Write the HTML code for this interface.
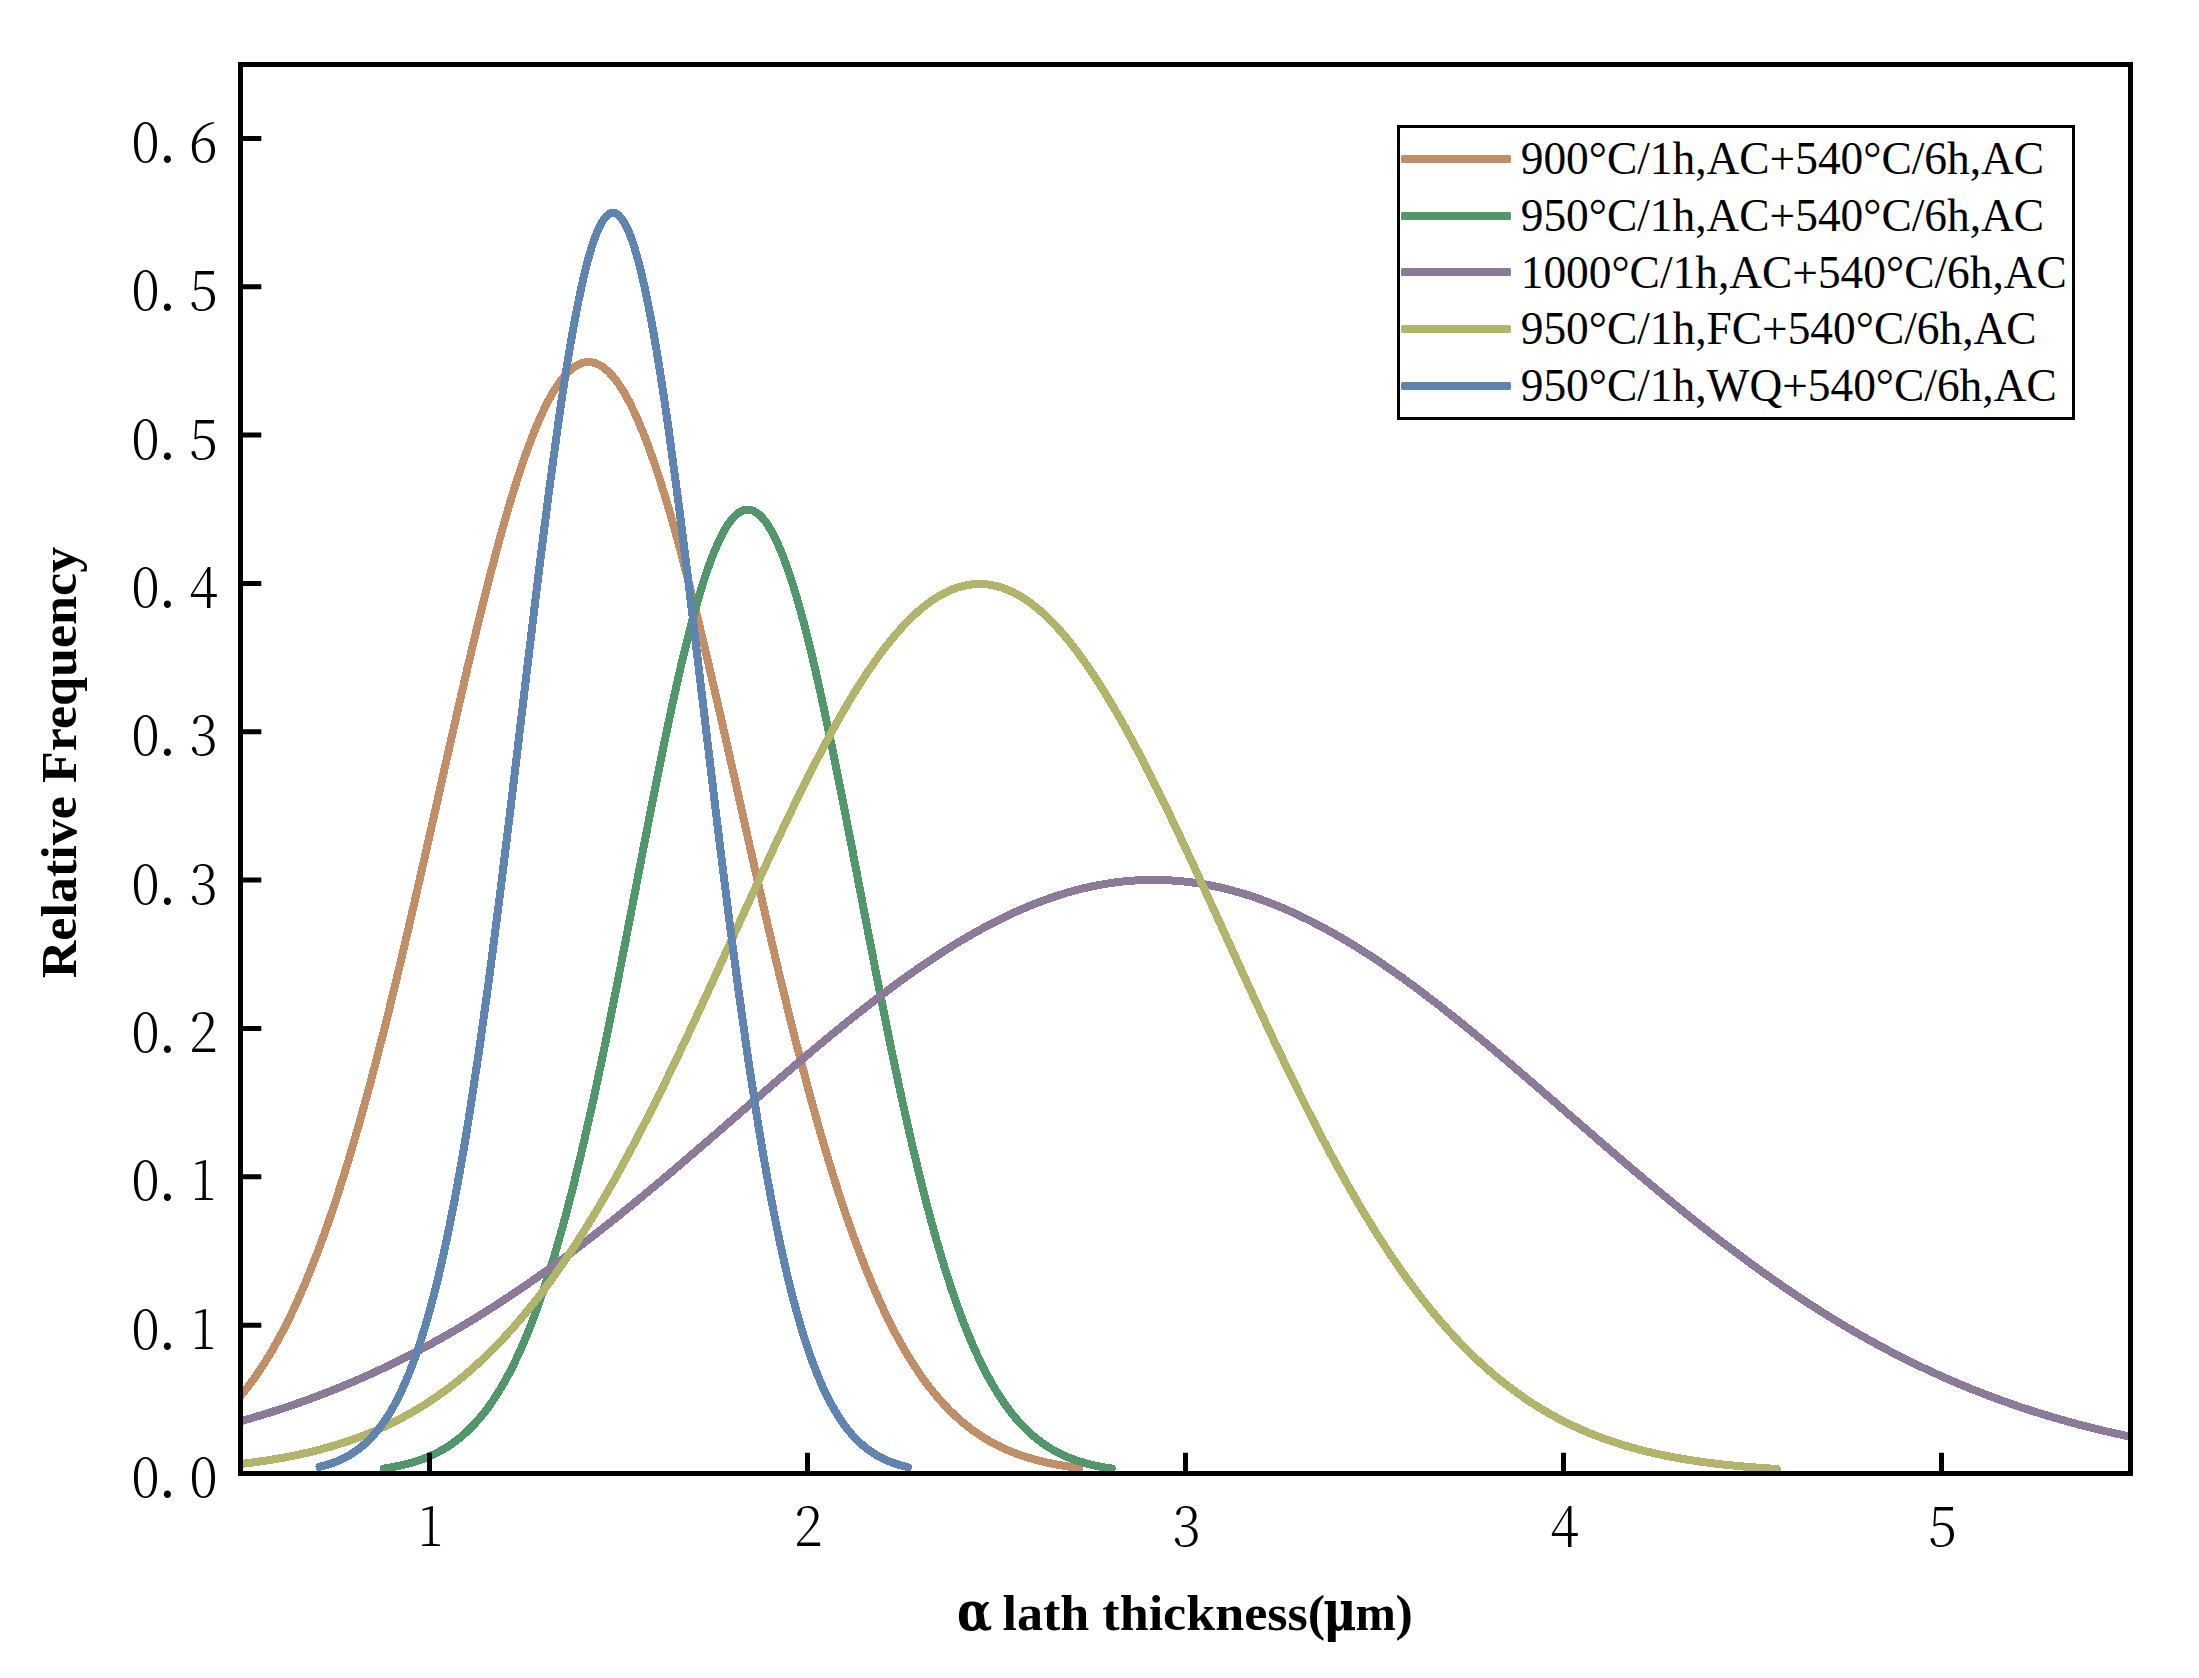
<!DOCTYPE html>
<html><head><meta charset="utf-8"><title>alpha lath thickness</title>
<style>html,body{margin:0;padding:0;background:#fff;overflow:hidden}svg{display:block}.tk{font-family:"Noto Serif CJK SC","Liberation Serif",serif;font-weight:300;font-size:55.4px;text-anchor:middle;fill:#000}.lg{font-family:"Liberation Serif",serif;font-size:45.4px;fill:#000}.ti{font-family:"Liberation Serif",serif;font-weight:bold;font-size:52.1px;fill:#000}</style></head><body>
<svg width="2199" height="1678" viewBox="0 0 2199 1678">
<rect width="2199" height="1678" fill="#fff"/>
<defs><clipPath id="pc"><rect x="240.5" y="64.5" width="1890.0" height="1412.0"/></clipPath></defs>
<g clip-path="url(#pc)" fill="none" stroke-width="8" stroke-linecap="round" stroke-linejoin="round" shape-rendering="crispEdges">
<path stroke="#C08F68" d="M228.50,1409.18C231.84,1405.78 235.17,1402.16 238.51,1398.29C241.85,1394.43 245.19,1390.33 248.52,1385.96C251.86,1381.59 255.20,1376.96 258.54,1372.05C261.87,1367.14 265.21,1361.94 268.55,1356.44C271.88,1350.95 275.22,1345.15 278.56,1339.03C281.90,1332.92 285.23,1326.48 288.57,1319.71C291.91,1312.95 295.25,1305.84 298.58,1298.39C301.92,1290.94 305.26,1283.14 308.59,1274.99C311.93,1266.84 315.27,1258.32 318.61,1249.45C321.94,1240.58 325.28,1231.34 328.62,1221.74C331.95,1212.14 335.29,1202.17 338.63,1191.84C341.97,1181.51 345.30,1170.82 348.64,1159.78C351.98,1148.74 355.32,1137.34 358.65,1125.61C361.99,1113.87 365.33,1101.80 368.66,1089.41C372.00,1077.02 375.34,1064.31 378.68,1051.31C382.01,1038.31 385.35,1025.01 388.69,1011.47C392.03,997.92 395.36,984.11 398.70,970.09C402.04,956.07 405.37,941.83 408.71,927.42C412.05,913.02 415.39,898.44 418.72,883.74C422.06,869.05 425.40,854.24 428.74,839.37C432.07,824.50 435.41,809.58 438.75,794.66C442.08,779.74 445.42,764.83 448.76,749.99C452.10,735.16 455.43,720.39 458.77,705.78C462.11,691.16 465.45,676.69 468.78,662.44C472.12,648.19 475.46,634.16 478.79,620.43C482.13,606.69 485.47,593.26 488.81,580.19C492.14,567.12 495.48,554.42 498.82,542.16C502.15,529.90 505.49,518.09 508.83,506.78C512.17,495.48 515.50,484.69 518.84,474.48C522.18,464.27 525.52,454.63 528.85,445.63C532.19,436.64 535.53,428.28 538.86,420.61C542.20,412.94 545.54,405.96 548.88,399.71C552.21,393.47 555.55,387.96 558.89,383.22C562.23,378.49 565.56,374.52 568.90,371.35C572.24,368.18 575.57,365.81 578.91,364.24C582.25,362.68 585.59,361.94 588.92,362.00C592.26,362.07 595.60,362.96 598.94,364.66C602.27,366.36 605.61,368.87 608.95,372.17C612.28,375.48 615.62,379.58 618.96,384.44C622.30,389.31 625.63,394.95 628.97,401.32C632.31,407.68 635.65,414.78 638.98,422.57C642.32,430.35 645.66,438.83 648.99,447.93C652.33,457.04 655.67,466.77 659.01,477.08C662.34,487.39 665.68,498.27 669.02,509.66C672.35,521.05 675.69,532.95 679.03,545.28C682.37,557.61 685.70,570.38 689.04,583.51C692.38,596.64 695.72,610.14 699.05,623.92C702.39,637.70 705.73,651.78 709.06,666.06C712.40,680.35 715.74,694.85 719.08,709.49C722.41,724.13 725.75,738.91 729.09,753.76C732.43,768.61 735.76,783.53 739.10,798.45C742.44,813.37 745.77,828.29 749.11,843.14C752.45,858.00 755.79,872.80 759.12,887.47C762.46,902.14 765.80,916.70 769.14,931.08C772.47,945.46 775.81,959.66 779.15,973.65C782.48,987.63 785.82,1001.40 789.16,1014.90C792.50,1028.40 795.83,1041.65 799.17,1054.60C802.51,1067.55 805.85,1080.21 809.18,1092.55C812.52,1104.88 815.86,1116.90 819.19,1128.58C822.53,1140.26 825.87,1151.59 829.21,1162.58C832.54,1173.56 835.88,1184.19 839.22,1194.45C842.55,1204.72 845.89,1214.63 849.23,1224.17C852.57,1233.71 855.90,1242.88 859.24,1251.70C862.58,1260.51 865.92,1268.96 869.25,1277.05C872.59,1285.15 875.93,1292.88 879.26,1300.28C882.60,1307.67 885.94,1314.71 889.28,1321.43C892.61,1328.14 895.95,1334.52 899.29,1340.58C902.63,1346.64 905.96,1352.39 909.30,1357.83C912.64,1363.28 915.97,1368.42 919.31,1373.29C922.65,1378.15 925.99,1382.74 929.32,1387.06C932.66,1391.38 936.00,1395.45 939.34,1399.27C942.67,1403.09 946.01,1406.67 949.35,1410.03C952.68,1413.39 956.02,1416.53 959.36,1419.48C962.70,1422.42 966.03,1425.16 969.37,1427.71C972.71,1430.27 976.05,1432.65 979.38,1434.87C982.72,1437.08 986.06,1439.14 989.39,1441.05C992.73,1442.96 996.07,1444.72 999.41,1446.36C1002.74,1447.99 1006.08,1449.50 1009.42,1450.90C1012.75,1452.30 1016.09,1453.58 1019.43,1454.76C1022.77,1455.95 1026.10,1457.03 1029.44,1458.04C1032.78,1459.04 1036.12,1459.95 1039.45,1460.79C1042.79,1461.63 1046.13,1462.40 1049.46,1463.10C1052.80,1463.81 1056.14,1464.45 1059.48,1465.03C1062.81,1465.62 1066.15,1466.15 1069.49,1466.63C1072.83,1467.12 1076.16,1467.56 1079.50,1467.96"/>
<path stroke="#52976B" d="M384.00,1468.51C387.32,1468.03 390.65,1467.49 393.97,1466.86C397.29,1466.24 400.61,1465.55 403.94,1464.75C407.26,1463.95 410.58,1463.06 413.91,1462.05C417.23,1461.04 420.55,1459.91 423.87,1458.64C427.20,1457.37 430.52,1455.95 433.84,1454.36C437.17,1452.78 440.49,1451.02 443.81,1449.05C447.13,1447.09 450.46,1444.92 453.78,1442.51C457.10,1440.10 460.43,1437.45 463.75,1434.53C467.07,1431.60 470.39,1428.40 473.72,1424.87C477.04,1421.35 480.36,1417.51 483.68,1413.31C487.01,1409.10 490.33,1404.54 493.65,1399.58C496.98,1394.61 500.30,1389.24 503.62,1383.43C506.94,1377.61 510.27,1371.36 513.59,1364.62C516.91,1357.88 520.24,1350.65 523.56,1342.91C526.88,1335.17 530.20,1326.92 533.53,1318.12C536.85,1309.32 540.17,1299.98 543.50,1290.07C546.82,1280.17 550.14,1269.70 553.46,1258.67C556.79,1247.63 560.11,1236.03 563.43,1223.87C566.76,1211.70 570.08,1198.98 573.40,1185.72C576.72,1172.45 580.05,1158.65 583.37,1144.35C586.69,1130.05 590.02,1115.24 593.34,1100.00C596.66,1084.75 599.98,1069.07 603.31,1053.01C606.63,1036.96 609.95,1020.53 613.28,1003.84C616.60,987.15 619.92,970.18 623.24,953.05C626.57,935.93 629.89,918.64 633.21,901.32C636.54,883.99 639.86,866.64 643.18,849.39C646.50,832.14 649.83,815.00 653.15,798.11C656.47,781.23 659.79,764.60 663.12,748.38C666.44,732.16 669.76,716.36 673.09,701.12C676.41,685.88 679.73,671.21 683.05,657.26C686.38,643.31 689.70,630.07 693.02,617.70C696.35,605.33 699.67,593.81 702.99,583.29C706.31,572.77 709.64,563.23 712.96,554.79C716.28,546.35 719.61,539.01 722.93,532.85C726.25,526.69 729.57,521.71 732.90,517.97C736.22,514.23 739.54,511.73 742.87,510.50C746.19,509.26 749.51,509.30 752.83,510.61C756.16,511.92 759.48,514.49 762.80,518.31C766.13,522.12 769.45,527.18 772.77,533.41C776.09,539.64 779.42,547.05 782.74,555.56C786.06,564.06 789.39,573.66 792.71,584.24C796.03,594.83 799.35,606.39 802.68,618.82C806.00,631.24 809.32,644.52 812.65,658.52C815.97,672.52 819.29,687.23 822.61,702.50C825.94,717.77 829.26,733.61 832.58,749.85C835.91,766.09 839.23,782.74 842.55,799.64C845.87,816.54 849.20,833.69 852.52,850.95C855.84,868.20 859.16,885.56 862.49,902.88C865.81,920.20 869.13,937.48 872.46,954.60C875.78,971.72 879.10,988.67 882.42,1005.35C885.75,1022.02 889.07,1038.43 892.39,1054.46C895.72,1070.49 899.04,1086.15 902.36,1101.37C905.68,1116.59 909.01,1131.37 912.33,1145.64C915.65,1159.91 918.98,1173.68 922.30,1186.91C925.62,1200.14 928.94,1212.83 932.27,1224.96C935.59,1237.09 938.91,1248.66 942.24,1259.66C945.56,1270.66 948.88,1281.09 952.20,1290.96C955.53,1300.83 958.85,1310.14 962.17,1318.91C965.50,1327.68 968.82,1335.90 972.14,1343.61C975.46,1351.32 978.79,1358.51 982.11,1365.22C985.43,1371.93 988.76,1378.16 992.08,1383.95C995.40,1389.74 998.72,1395.08 1002.05,1400.02C1005.37,1404.96 1008.69,1409.50 1012.02,1413.68C1015.34,1417.87 1018.66,1421.69 1021.98,1425.19C1025.31,1428.69 1028.63,1431.88 1031.95,1434.79C1035.27,1437.70 1038.60,1440.33 1041.92,1442.73C1045.24,1445.12 1048.57,1447.28 1051.89,1449.23C1055.21,1451.18 1058.53,1452.93 1061.86,1454.51C1065.18,1456.09 1068.50,1457.49 1071.83,1458.76C1075.15,1460.02 1078.47,1461.14 1081.79,1462.14C1085.12,1463.15 1088.44,1464.03 1091.76,1464.82C1095.09,1465.61 1098.41,1466.30 1101.73,1466.92C1105.05,1467.54 1108.38,1468.07 1111.70,1468.55"/>
<path stroke="#8B7A98" d="M228.50,1424.49C231.84,1423.61 235.18,1422.71 238.52,1421.78C241.86,1420.86 245.20,1419.92 248.54,1418.96C251.88,1418.00 255.22,1417.02 258.56,1416.02C261.90,1415.01 265.24,1413.99 268.58,1412.95C271.92,1411.91 275.26,1410.84 278.60,1409.76C281.95,1408.67 285.29,1407.56 288.63,1406.43C291.97,1405.30 295.31,1404.15 298.65,1402.98C301.99,1401.80 305.33,1400.61 308.67,1399.39C312.01,1398.17 315.35,1396.93 318.69,1395.66C322.03,1394.40 325.37,1393.11 328.71,1391.79C332.05,1390.48 335.39,1389.15 338.73,1387.79C342.07,1386.43 345.41,1385.04 348.75,1383.63C352.09,1382.23 355.43,1380.79 358.77,1379.34C362.11,1377.88 365.45,1376.40 368.79,1374.89C372.13,1373.38 375.47,1371.85 378.81,1370.30C382.15,1368.74 385.49,1367.16 388.84,1365.55C392.18,1363.94 395.52,1362.31 398.86,1360.65C402.20,1358.99 405.54,1357.31 408.88,1355.60C412.22,1353.89 415.56,1352.15 418.90,1350.39C422.24,1348.63 425.58,1346.85 428.92,1345.03C432.26,1343.22 435.60,1341.38 438.94,1339.52C442.28,1337.65 445.62,1335.76 448.96,1333.85C452.30,1331.93 455.64,1329.99 458.98,1328.02C462.32,1326.06 465.66,1324.06 469.00,1322.04C472.34,1320.02 475.68,1317.98 479.02,1315.91C482.36,1313.84 485.70,1311.75 489.04,1309.62C492.38,1307.50 495.73,1305.36 499.07,1303.19C502.41,1301.02 505.75,1298.82 509.09,1296.60C512.43,1294.38 515.77,1292.14 519.11,1289.87C522.45,1287.60 525.79,1285.31 529.13,1282.99C532.47,1280.68 535.81,1278.34 539.15,1275.97C542.49,1273.61 545.83,1271.22 549.17,1268.82C552.51,1266.41 555.85,1263.98 559.19,1261.52C562.53,1259.07 565.87,1256.59 569.21,1254.10C572.55,1251.60 575.89,1249.08 579.23,1246.55C582.57,1244.01 585.91,1241.45 589.25,1238.87C592.59,1236.29 595.93,1233.69 599.27,1231.08C602.62,1228.46 605.96,1225.83 609.30,1223.17C612.64,1220.52 615.98,1217.85 619.32,1215.16C622.66,1212.48 626.00,1209.77 629.34,1207.05C632.68,1204.33 636.02,1201.60 639.36,1198.85C642.70,1196.10 646.04,1193.33 649.38,1190.55C652.72,1187.78 656.06,1184.99 659.40,1182.18C662.74,1179.38 666.08,1176.56 669.42,1173.74C672.76,1170.91 676.10,1168.08 679.44,1165.23C682.78,1162.38 686.12,1159.53 689.46,1156.67C692.80,1153.80 696.14,1150.93 699.48,1148.05C702.82,1145.18 706.16,1142.29 709.51,1139.40C712.85,1136.52 716.19,1133.62 719.53,1130.73C722.87,1127.83 726.21,1124.93 729.55,1122.03C732.89,1119.12 736.23,1116.22 739.57,1113.32C742.91,1110.41 746.25,1107.51 749.59,1104.61C752.93,1101.71 756.27,1098.81 759.61,1095.91C762.95,1093.01 766.29,1090.12 769.63,1087.23C772.97,1084.35 776.31,1081.46 779.65,1078.59C782.99,1075.71 786.33,1072.84 789.67,1069.99C793.01,1067.13 796.35,1064.28 799.69,1061.44C803.03,1058.60 806.37,1055.77 809.71,1052.95C813.05,1050.14 816.40,1047.33 819.74,1044.55C823.08,1041.76 826.42,1038.98 829.76,1036.23C833.10,1033.47 836.44,1030.73 839.78,1028.01C843.12,1025.28 846.46,1022.58 849.80,1019.90C853.14,1017.22 856.48,1014.55 859.82,1011.91C863.16,1009.27 866.50,1006.65 869.84,1004.06C873.18,1001.47 876.52,998.90 879.86,996.35C883.20,993.81 886.54,991.29 889.88,988.81C893.22,986.32 896.56,983.86 899.90,981.43C903.24,979.00 906.58,976.60 909.92,974.23C913.26,971.86 916.60,969.52 919.95,967.22C923.29,964.91 926.63,962.64 929.97,960.41C933.31,958.18 936.65,955.98 939.99,953.82C943.33,951.66 946.67,949.53 950.01,947.45C953.35,945.36 956.69,943.31 960.03,941.31C963.37,939.30 966.71,937.34 970.05,935.41C973.39,933.49 976.73,931.61 980.07,929.77C983.41,927.94 986.75,926.14 990.09,924.40C993.43,922.65 996.77,920.94 1000.11,919.29C1003.45,917.63 1006.79,916.02 1010.13,914.46C1013.47,912.90 1016.81,911.39 1020.15,909.92C1023.49,908.46 1026.84,907.04 1030.18,905.68C1033.52,904.31 1036.86,903.00 1040.20,901.74C1043.54,900.47 1046.88,899.26 1050.22,898.11C1053.56,896.95 1056.90,895.84 1060.24,894.79C1063.58,893.74 1066.92,892.74 1070.26,891.80C1073.60,890.85 1076.94,889.96 1080.28,889.13C1083.62,888.29 1086.96,887.51 1090.30,886.79C1093.64,886.07 1096.98,885.40 1100.32,884.79C1103.66,884.18 1107.00,883.63 1110.34,883.13C1113.68,882.63 1117.02,882.19 1120.36,881.81C1123.70,881.43 1127.04,881.10 1130.38,880.83C1133.73,880.56 1137.07,880.35 1140.41,880.20C1143.75,880.05 1147.09,879.95 1150.43,879.92C1153.77,879.88 1157.11,879.90 1160.45,879.98C1163.79,880.06 1167.13,880.20 1170.47,880.39C1173.81,880.59 1177.15,880.84 1180.49,881.15C1183.83,881.46 1187.17,881.83 1190.51,882.25C1193.85,882.68 1197.19,883.16 1200.53,883.70C1203.87,884.24 1207.21,884.83 1210.55,885.48C1213.89,886.14 1217.23,886.85 1220.57,887.61C1223.91,888.37 1227.25,889.19 1230.59,890.07C1233.93,890.94 1237.27,891.87 1240.62,892.86C1243.96,893.84 1247.30,894.88 1250.64,895.97C1253.98,897.06 1257.32,898.20 1260.66,899.40C1264.00,900.60 1267.34,901.85 1270.68,903.15C1274.02,904.45 1277.36,905.80 1280.70,907.20C1284.04,908.60 1287.38,910.05 1290.72,911.55C1294.06,913.05 1297.40,914.60 1300.74,916.20C1304.08,917.79 1307.42,919.44 1310.76,921.13C1314.10,922.82 1317.44,924.56 1320.78,926.34C1324.12,928.12 1327.46,929.94 1330.80,931.81C1334.14,933.68 1337.48,935.59 1340.82,937.55C1344.16,939.50 1347.51,941.50 1350.85,943.53C1354.19,945.57 1357.53,947.64 1360.87,949.76C1364.21,951.87 1367.55,954.02 1370.89,956.21C1374.23,958.40 1377.57,960.62 1380.91,962.88C1384.25,965.14 1387.59,967.44 1390.93,969.76C1394.27,972.09 1397.61,974.45 1400.95,976.84C1404.29,979.24 1407.63,981.66 1410.97,984.11C1414.31,986.56 1417.65,989.05 1420.99,991.56C1424.33,994.06 1427.67,996.60 1431.01,999.16C1434.35,1001.72 1437.69,1004.31 1441.03,1006.92C1444.37,1009.53 1447.71,1012.17 1451.05,1014.83C1454.40,1017.48 1457.74,1020.16 1461.08,1022.86C1464.42,1025.56 1467.76,1028.27 1471.10,1031.01C1474.44,1033.74 1477.78,1036.50 1481.12,1039.27C1484.46,1042.03 1487.80,1044.82 1491.14,1047.62C1494.48,1050.42 1497.82,1053.23 1501.16,1056.06C1504.50,1058.88 1507.84,1061.72 1511.18,1064.56C1514.52,1067.41 1517.86,1070.27 1521.20,1073.13C1524.54,1076.00 1527.88,1078.87 1531.22,1081.75C1534.56,1084.63 1537.90,1087.52 1541.24,1090.41C1544.58,1093.30 1547.92,1096.20 1551.26,1099.10C1554.60,1102.00 1557.95,1104.90 1561.29,1107.80C1564.63,1110.70 1567.97,1113.61 1571.31,1116.51C1574.65,1119.41 1577.99,1122.32 1581.33,1125.22C1584.67,1128.12 1588.01,1131.02 1591.35,1133.91C1594.69,1136.80 1598.03,1139.70 1601.37,1142.58C1604.71,1145.47 1608.05,1148.34 1611.39,1151.22C1614.73,1154.09 1618.07,1156.96 1621.41,1159.81C1624.75,1162.67 1628.09,1165.52 1631.43,1168.36C1634.77,1171.20 1638.11,1174.03 1641.45,1176.84C1644.79,1179.66 1648.13,1182.47 1651.47,1185.26C1654.81,1188.06 1658.15,1190.84 1661.49,1193.61C1664.84,1196.37 1668.18,1199.13 1671.52,1201.87C1674.86,1204.61 1678.20,1207.33 1681.54,1210.04C1684.88,1212.75 1688.22,1215.44 1691.56,1218.11C1694.90,1220.79 1698.24,1223.45 1701.58,1226.09C1704.92,1228.72 1708.26,1231.35 1711.60,1233.95C1714.94,1236.55 1718.28,1239.13 1721.62,1241.70C1724.96,1244.26 1728.30,1246.81 1731.64,1249.33C1734.98,1251.85 1738.32,1254.35 1741.66,1256.83C1745.00,1259.32 1748.34,1261.77 1751.68,1264.21C1755.02,1266.65 1758.36,1269.06 1761.70,1271.46C1765.04,1273.85 1768.38,1276.22 1771.73,1278.56C1775.07,1280.91 1778.41,1283.23 1781.75,1285.53C1785.09,1287.83 1788.43,1290.11 1791.77,1292.36C1795.11,1294.61 1798.45,1296.83 1801.79,1299.03C1805.13,1301.24 1808.47,1303.41 1811.81,1305.57C1815.15,1307.72 1818.49,1309.85 1821.83,1311.95C1825.17,1314.05 1828.51,1316.13 1831.85,1318.18C1835.19,1320.23 1838.53,1322.25 1841.87,1324.25C1845.21,1326.25 1848.55,1328.23 1851.89,1330.18C1855.23,1332.12 1858.57,1334.05 1861.91,1335.94C1865.25,1337.84 1868.59,1339.71 1871.93,1341.56C1875.27,1343.40 1878.62,1345.22 1881.96,1347.02C1885.30,1348.81 1888.64,1350.58 1891.98,1352.32C1895.32,1354.06 1898.66,1355.78 1902.00,1357.47C1905.34,1359.16 1908.68,1360.83 1912.02,1362.47C1915.36,1364.10 1918.70,1365.72 1922.04,1367.31C1925.38,1368.90 1928.72,1370.46 1932.06,1372.00C1935.40,1373.54 1938.74,1375.05 1942.08,1376.54C1945.42,1378.03 1948.76,1379.49 1952.10,1380.93C1955.44,1382.37 1958.78,1383.78 1962.12,1385.17C1965.46,1386.56 1968.80,1387.93 1972.14,1389.27C1975.48,1390.62 1978.82,1391.93 1982.16,1393.23C1985.51,1394.52 1988.85,1395.80 1992.19,1397.04C1995.53,1398.29 1998.87,1399.52 2002.21,1400.72C2005.55,1401.92 2008.89,1403.10 2012.23,1404.26C2015.57,1405.42 2018.91,1406.55 2022.25,1407.67C2025.59,1408.78 2028.93,1409.87 2032.27,1410.94C2035.61,1412.01 2038.95,1413.06 2042.29,1414.09C2045.63,1415.12 2048.97,1416.12 2052.31,1417.11C2055.65,1418.10 2058.99,1419.06 2062.33,1420.01C2065.67,1420.96 2069.01,1421.88 2072.35,1422.79C2075.69,1423.70 2079.03,1424.58 2082.37,1425.45C2085.71,1426.32 2089.05,1427.17 2092.40,1428.00C2095.74,1428.84 2099.08,1429.65 2102.42,1430.44C2105.76,1431.24 2109.10,1432.02 2112.44,1432.78C2115.78,1433.54 2119.12,1434.28 2122.46,1435.01C2125.80,1435.73 2129.14,1436.44 2132.48,1437.13C2135.82,1437.83 2139.16,1438.50 2142.50,1439.17"/>
<path stroke="#B3B46C" d="M228.50,1465.31C231.83,1464.97 235.16,1464.61 238.49,1464.23C241.82,1463.85 245.15,1463.45 248.48,1463.03C251.81,1462.60 255.14,1462.16 258.47,1461.68C261.80,1461.21 265.13,1460.72 268.46,1460.19C271.79,1459.67 275.12,1459.12 278.45,1458.54C281.78,1457.96 285.11,1457.35 288.44,1456.70C291.77,1456.06 295.10,1455.39 298.43,1454.68C301.76,1453.97 305.09,1453.22 308.42,1452.44C311.75,1451.66 315.08,1450.84 318.41,1449.98C321.74,1449.12 325.07,1448.21 328.40,1447.27C331.73,1446.32 335.06,1445.33 338.39,1444.30C341.72,1443.26 345.05,1442.18 348.38,1441.04C351.71,1439.91 355.04,1438.73 358.37,1437.49C361.70,1436.25 365.03,1434.96 368.36,1433.61C371.69,1432.26 375.02,1430.85 378.35,1429.38C381.68,1427.92 385.02,1426.39 388.35,1424.79C391.68,1423.20 395.01,1421.54 398.34,1419.81C401.67,1418.09 405.00,1416.29 408.33,1414.42C411.66,1412.56 414.99,1410.62 418.32,1408.60C421.65,1406.58 424.98,1404.49 428.31,1402.32C431.64,1400.15 434.97,1397.90 438.30,1395.56C441.63,1393.23 444.96,1390.81 448.29,1388.31C451.62,1385.80 454.95,1383.21 458.28,1380.53C461.61,1377.84 464.94,1375.07 468.27,1372.20C471.60,1369.34 474.93,1366.38 478.26,1363.32C481.59,1360.26 484.92,1357.11 488.25,1353.86C491.58,1350.60 494.91,1347.25 498.24,1343.79C501.57,1340.34 504.90,1336.78 508.23,1333.12C511.56,1329.46 514.89,1325.69 518.22,1321.82C521.55,1317.94 524.88,1313.96 528.21,1309.88C531.54,1305.79 534.87,1301.59 538.20,1297.29C541.53,1292.98 544.86,1288.57 548.19,1284.05C551.52,1279.52 554.85,1274.89 558.18,1270.15C561.51,1265.41 564.84,1260.55 568.17,1255.59C571.50,1250.63 574.83,1245.56 578.16,1240.38C581.49,1235.20 584.82,1229.91 588.15,1224.52C591.48,1219.12 594.81,1213.62 598.14,1208.02C601.47,1202.41 604.80,1196.71 608.13,1190.90C611.46,1185.09 614.79,1179.18 618.12,1173.17C621.45,1167.16 624.78,1161.05 628.11,1154.86C631.44,1148.66 634.77,1142.37 638.10,1135.99C641.43,1129.61 644.76,1123.14 648.09,1116.59C651.42,1110.05 654.75,1103.42 658.08,1096.71C661.41,1090.01 664.74,1083.23 668.07,1076.38C671.40,1069.53 674.73,1062.62 678.06,1055.65C681.39,1048.67 684.72,1041.64 688.05,1034.56C691.38,1027.48 694.72,1020.34 698.05,1013.17C701.38,1006.00 704.71,998.79 708.04,991.54C711.37,984.30 714.70,977.03 718.03,969.73C721.36,962.44 724.69,955.13 728.02,947.81C731.35,940.49 734.68,933.16 738.01,925.84C741.34,918.52 744.67,911.20 748.00,903.90C751.33,896.60 754.66,889.31 757.99,882.06C761.32,874.81 764.65,867.58 767.98,860.40C771.31,853.22 774.64,846.08 777.97,839.00C781.30,831.92 784.63,824.90 787.96,817.95C791.29,810.99 794.62,804.11 797.95,797.31C801.28,790.52 804.61,783.80 807.94,777.19C811.27,770.57 814.60,764.06 817.93,757.65C821.26,751.25 824.59,744.95 827.92,738.78C831.25,732.62 834.58,726.58 837.91,720.67C841.24,714.77 844.57,709.00 847.90,703.39C851.23,697.78 854.56,692.32 857.89,687.02C861.22,681.72 864.55,676.59 867.88,671.63C871.21,666.67 874.54,661.89 877.87,657.29C881.20,652.70 884.53,648.29 887.86,644.08C891.19,639.87 894.52,635.86 897.85,632.05C901.18,628.24 904.51,624.64 907.84,621.26C911.17,617.87 914.50,614.70 917.83,611.76C921.16,608.81 924.49,606.09 927.82,603.60C931.15,601.10 934.48,598.84 937.81,596.81C941.14,594.79 944.47,592.99 947.80,591.44C951.13,589.89 954.46,588.58 957.79,587.51C961.12,586.44 964.45,585.61 967.78,585.03C971.11,584.45 974.44,584.11 977.77,584.02C981.10,583.93 984.43,584.09 987.76,584.49C991.09,584.89 994.42,585.54 997.75,586.43C1001.08,587.32 1004.42,588.46 1007.75,589.84C1011.08,591.21 1014.41,592.83 1017.74,594.68C1021.07,596.54 1024.40,598.63 1027.73,600.96C1031.06,603.28 1034.39,605.84 1037.72,608.62C1041.05,611.40 1044.38,614.41 1047.71,617.63C1051.04,620.86 1054.37,624.30 1057.70,627.96C1061.03,631.61 1064.36,635.48 1067.69,639.54C1071.02,643.61 1074.35,647.87 1077.68,652.33C1081.01,656.79 1084.34,661.44 1087.67,666.26C1091.00,671.09 1094.33,676.10 1097.66,681.28C1100.99,686.45 1104.32,691.80 1107.65,697.30C1110.98,702.80 1114.31,708.45 1117.64,714.25C1120.97,720.06 1124.30,726.00 1127.63,732.07C1130.96,738.15 1134.29,744.35 1137.62,750.67C1140.95,756.99 1144.28,763.43 1147.61,769.97C1150.94,776.52 1154.27,783.16 1157.60,789.89C1160.93,796.63 1164.26,803.45 1167.59,810.35C1170.92,817.25 1174.25,824.23 1177.58,831.26C1180.91,838.30 1184.24,845.40 1187.57,852.55C1190.90,859.69 1194.23,866.89 1197.56,874.12C1200.89,881.35 1204.22,888.61 1207.55,895.90C1210.88,903.19 1214.21,910.50 1217.54,917.81C1220.87,925.13 1224.20,932.46 1227.53,939.78C1230.86,947.10 1234.19,954.42 1237.52,961.73C1240.85,969.03 1244.18,976.32 1247.51,983.59C1250.84,990.85 1254.17,998.09 1257.50,1005.29C1260.83,1012.49 1264.16,1019.66 1267.49,1026.77C1270.82,1033.89 1274.15,1040.96 1277.48,1047.98C1280.81,1054.99 1284.14,1061.95 1287.47,1068.85C1290.80,1075.74 1294.13,1082.57 1297.46,1089.33C1300.79,1096.09 1304.12,1102.77 1307.45,1109.38C1310.78,1115.99 1314.12,1122.52 1317.45,1128.96C1320.78,1135.40 1324.11,1141.76 1327.44,1148.02C1330.77,1154.29 1334.10,1160.46 1337.43,1166.54C1340.76,1172.62 1344.09,1178.60 1347.42,1184.49C1350.75,1190.37 1354.08,1196.15 1357.41,1201.83C1360.74,1207.51 1364.07,1213.09 1367.40,1218.56C1370.73,1224.03 1374.06,1229.40 1377.39,1234.66C1380.72,1239.91 1384.05,1245.06 1387.38,1250.11C1390.71,1255.15 1394.04,1260.08 1397.37,1264.90C1400.70,1269.73 1404.03,1274.44 1407.36,1279.04C1410.69,1283.65 1414.02,1288.14 1417.35,1292.52C1420.68,1296.91 1424.01,1301.18 1427.34,1305.35C1430.67,1309.52 1434.00,1313.58 1437.33,1317.53C1440.66,1321.48 1443.99,1325.32 1447.32,1329.06C1450.65,1332.80 1453.98,1336.43 1457.31,1339.96C1460.64,1343.49 1463.97,1346.92 1467.30,1350.25C1470.63,1353.57 1473.96,1356.80 1477.29,1359.93C1480.62,1363.06 1483.95,1366.09 1487.28,1369.02C1490.61,1371.96 1493.94,1374.80 1497.27,1377.55C1500.60,1380.30 1503.93,1382.95 1507.26,1385.52C1510.59,1388.09 1513.92,1390.57 1517.25,1392.97C1520.58,1395.37 1523.91,1397.68 1527.24,1399.91C1530.57,1402.14 1533.90,1404.29 1537.23,1406.36C1540.56,1408.43 1543.89,1410.43 1547.22,1412.35C1550.55,1414.27 1553.88,1416.12 1557.21,1417.89C1560.54,1419.67 1563.87,1421.38 1567.20,1423.02C1570.53,1424.66 1573.86,1426.24 1577.19,1427.75C1580.52,1429.26 1583.85,1430.71 1587.18,1432.11C1590.51,1433.50 1593.84,1434.83 1597.17,1436.11C1600.50,1437.39 1603.83,1438.61 1607.16,1439.78C1610.49,1440.95 1613.82,1442.07 1617.15,1443.14C1620.48,1444.21 1623.82,1445.24 1627.15,1446.21C1630.48,1447.19 1633.81,1448.12 1637.14,1449.02C1640.47,1449.91 1643.80,1450.76 1647.13,1451.57C1650.46,1452.38 1653.79,1453.15 1657.12,1453.88C1660.45,1454.62 1663.78,1455.32 1667.11,1455.99C1670.44,1456.65 1673.77,1457.28 1677.10,1457.89C1680.43,1458.49 1683.76,1459.06 1687.09,1459.61C1690.42,1460.15 1693.75,1460.67 1697.08,1461.16C1700.41,1461.65 1703.74,1462.11 1707.07,1462.55C1710.40,1462.99 1713.73,1463.41 1717.06,1463.81C1720.39,1464.20 1723.72,1464.58 1727.05,1464.93C1730.38,1465.28 1733.71,1465.62 1737.04,1465.94C1740.37,1466.25 1743.70,1466.55 1747.03,1466.84C1750.36,1467.12 1753.69,1467.39 1757.02,1467.64C1760.35,1467.89 1763.68,1468.13 1767.01,1468.35C1770.34,1468.58 1773.67,1468.79 1777.00,1468.99"/>
<path stroke="#5F84B0" d="M319.50,1466.87C322.82,1466.08 326.15,1465.16 329.47,1464.08C332.80,1463.00 336.12,1461.75 339.45,1460.29C342.77,1458.82 346.10,1457.14 349.42,1455.19C352.75,1453.23 356.07,1451.00 359.40,1448.43C362.72,1445.85 366.05,1442.93 369.37,1439.58C372.70,1436.23 376.02,1432.46 379.35,1428.17C382.67,1423.88 386.00,1419.07 389.32,1413.65C392.65,1408.23 395.97,1402.19 399.30,1395.43C402.62,1388.68 405.95,1381.20 409.27,1372.90C412.60,1364.60 415.92,1355.47 419.25,1345.42C422.57,1335.36 425.90,1324.39 429.22,1312.39C432.55,1300.40 435.87,1287.39 439.19,1273.30C442.52,1259.20 445.84,1244.02 449.17,1227.71C452.49,1211.40 455.82,1193.96 459.14,1175.38C462.47,1156.80 465.79,1137.08 469.12,1116.26C472.44,1095.44 475.77,1073.52 479.09,1050.58C482.42,1027.64 485.74,1003.69 489.07,978.86C492.39,954.02 495.72,928.32 499.04,901.93C502.37,875.55 505.69,848.49 509.02,821.01C512.34,793.53 515.67,765.62 518.99,737.60C522.32,709.58 525.64,681.44 528.97,653.53C532.29,625.62 535.62,597.94 538.94,570.86C542.27,543.78 545.59,517.31 548.92,491.83C552.24,466.34 555.56,441.85 558.89,418.74C562.21,395.62 565.54,373.87 568.86,353.86C572.19,333.84 575.51,315.55 578.84,299.31C582.16,283.06 585.49,268.85 588.81,256.93C592.14,245.01 595.46,235.38 598.79,228.22C602.11,221.05 605.44,216.34 608.76,214.18C612.09,212.02 615.41,212.40 618.74,215.33C622.06,218.25 625.39,223.71 628.71,231.62C632.04,239.52 635.36,249.86 638.69,262.46C642.01,275.06 645.34,289.92 648.66,306.77C651.99,323.63 655.31,342.47 658.64,363.00C661.96,383.53 665.29,405.73 668.61,429.26C671.94,452.78 675.26,477.62 678.58,503.39C681.91,529.16 685.23,555.86 688.56,583.11C691.88,610.37 695.21,638.16 698.53,666.13C701.86,694.11 705.18,722.25 708.51,750.23C711.83,778.21 715.16,806.03 718.48,833.38C721.81,860.73 725.13,887.62 728.46,913.79C731.78,939.97 735.11,965.43 738.43,990.00C741.76,1014.56 745.08,1038.23 748.41,1060.86C751.73,1083.49 755.06,1105.09 758.38,1125.58C761.71,1146.07 765.03,1165.45 768.36,1183.68C771.68,1201.92 775.01,1219.02 778.33,1234.99C781.66,1250.96 784.98,1265.81 788.31,1279.58C791.63,1293.35 794.95,1306.04 798.28,1317.73C801.60,1329.42 804.93,1340.11 808.25,1349.89C811.58,1359.66 814.90,1368.53 818.23,1376.59C821.55,1384.64 824.88,1391.89 828.20,1398.43C831.53,1404.98 834.85,1410.82 838.18,1416.06C841.50,1421.30 844.83,1425.94 848.15,1430.07C851.48,1434.21 854.80,1437.84 858.13,1441.06C861.45,1444.28 864.78,1447.09 868.10,1449.56C871.43,1452.04 874.75,1454.18 878.08,1456.05C881.40,1457.92 884.73,1459.53 888.05,1460.93C891.38,1462.33 894.70,1463.52 898.03,1464.56C901.35,1465.59 904.68,1466.46 908.00,1467.21"/>
</g>
<rect x="240.5" y="64.5" width="1890.0" height="1409.0" fill="none" stroke="#000" stroke-width="5"/>
<path d="M240.5,1325.2h20.8M240.5,1176.8h20.8M240.5,1028.5h20.8M240.5,880.1h20.8M240.5,731.8h20.8M240.5,583.4h20.8M240.5,435.1h20.8M240.5,286.7h20.8M240.5,138.4h20.8M429.5,1473.5v-20.8M807.5,1473.5v-20.8M1185.5,1473.5v-20.8M1563.5,1473.5v-20.8M1941.5,1473.5v-20.8" stroke="#000" stroke-width="5" fill="none"/>
<text class="tk" transform="translate(145.5,1497.0) scale(0.950,1)">0</text><text class="tk" style="font-size:66px" transform="translate(167.4,1497.0) scale(0.950,1)">.</text><text class="tk" transform="translate(203.5,1497.0) scale(0.950,1)">0</text>
<text class="tk" transform="translate(145.5,1348.7) scale(0.950,1)">0</text><text class="tk" style="font-size:66px" transform="translate(167.4,1348.7) scale(0.950,1)">.</text><text class="tk" transform="translate(203.5,1348.7) scale(0.840,1)">1</text>
<text class="tk" transform="translate(145.5,1200.3) scale(0.950,1)">0</text><text class="tk" style="font-size:66px" transform="translate(167.4,1200.3) scale(0.950,1)">.</text><text class="tk" transform="translate(203.5,1200.3) scale(0.840,1)">1</text>
<text class="tk" transform="translate(145.5,1052.0) scale(0.950,1)">0</text><text class="tk" style="font-size:66px" transform="translate(167.4,1052.0) scale(0.950,1)">.</text><text class="tk" transform="translate(203.5,1052.0) scale(0.950,1)">2</text>
<text class="tk" transform="translate(145.5,903.6) scale(0.950,1)">0</text><text class="tk" style="font-size:66px" transform="translate(167.4,903.6) scale(0.950,1)">.</text><text class="tk" transform="translate(203.5,903.6) scale(0.950,1)">3</text>
<text class="tk" transform="translate(145.5,755.3) scale(0.950,1)">0</text><text class="tk" style="font-size:66px" transform="translate(167.4,755.3) scale(0.950,1)">.</text><text class="tk" transform="translate(203.5,755.3) scale(0.950,1)">3</text>
<text class="tk" transform="translate(145.5,606.9) scale(0.950,1)">0</text><text class="tk" style="font-size:66px" transform="translate(167.4,606.9) scale(0.950,1)">.</text><text class="tk" transform="translate(203.5,606.9) scale(0.950,1)">4</text>
<text class="tk" transform="translate(145.5,458.6) scale(0.950,1)">0</text><text class="tk" style="font-size:66px" transform="translate(167.4,458.6) scale(0.950,1)">.</text><text class="tk" transform="translate(203.5,458.6) scale(0.950,1)">5</text>
<text class="tk" transform="translate(145.5,310.2) scale(0.950,1)">0</text><text class="tk" style="font-size:66px" transform="translate(167.4,310.2) scale(0.950,1)">.</text><text class="tk" transform="translate(203.5,310.2) scale(0.950,1)">5</text>
<text class="tk" transform="translate(145.5,161.9) scale(0.950,1)">0</text><text class="tk" style="font-size:66px" transform="translate(167.4,161.9) scale(0.950,1)">.</text><text class="tk" transform="translate(203.5,161.9) scale(0.950,1)">6</text>
<text class="tk" transform="translate(430.5,1546.0) scale(0.840,1)">1</text>
<text class="tk" transform="translate(808.5,1546.0) scale(0.950,1)">2</text>
<text class="tk" transform="translate(1186.5,1546.0) scale(0.950,1)">3</text>
<text class="tk" transform="translate(1564.5,1546.0) scale(0.950,1)">4</text>
<text class="tk" transform="translate(1942.5,1546.0) scale(0.950,1)">5</text>
<text class="ti" style="font-family:'DejaVu Serif',serif;font-size:54px" transform="translate(956.9,1630.4) scale(0.85,1)">α</text>
<text class="ti" transform="translate(1002.5,1629.8) scale(1,0.960)">lath thickness(</text>
<text class="ti" style="font-family:'DejaVu Serif',serif;font-size:55.5px" transform="translate(1323.2,1630.1) scale(0.82,1)">μ</text>
<text class="ti" transform="translate(1355.5,1629.8) scale(0.93,0.960)">m</text>
<text class="ti" transform="translate(1395.5,1629.8) scale(1,0.960)">)</text>
<text class="ti" transform="translate(76,762.5) rotate(-90) scale(1,0.960)" text-anchor="middle">Relative Frequency</text>
<rect x="1398.5" y="126.5" width="675" height="292" fill="#fff" stroke="#000" stroke-width="3"/>
<rect x="1401" y="155.0" width="110" height="8" rx="1.5" fill="#C08F68"/>
<text class="lg" x="1520.7" y="174.0">900°C/1h,AC+540°C/6h,AC</text>
<rect x="1401" y="212.0" width="110" height="8" rx="1.5" fill="#52976B"/>
<text class="lg" x="1520.7" y="230.8">950°C/1h,AC+540°C/6h,AC</text>
<rect x="1401" y="268.0" width="110" height="8" rx="1.5" fill="#8B7A98"/>
<text class="lg" x="1520.7" y="287.6">1000°C/1h,AC+540°C/6h,AC</text>
<rect x="1401" y="325.0" width="110" height="8" rx="1.5" fill="#B3B46C"/>
<text class="lg" x="1520.7" y="344.2">950°C/1h,FC+540°C/6h,AC</text>
<rect x="1401" y="382.0" width="110" height="8" rx="1.5" fill="#5F84B0"/>
<text class="lg" x="1520.7" y="400.8">950°C/1h,WQ+540°C/6h,AC</text>
</svg></body></html>
